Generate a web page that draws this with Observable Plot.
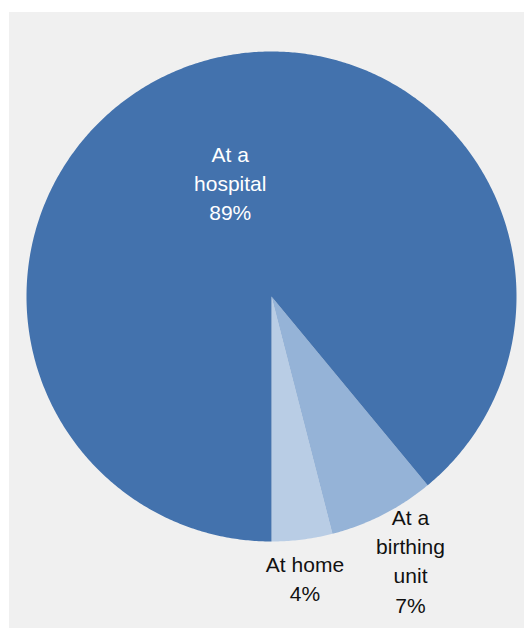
<!DOCTYPE html>
<html>
<head>
<meta charset="utf-8">
<script src="https://cdn.jsdelivr.net/npm/d3@7"></script>
<script src="https://cdn.jsdelivr.net/npm/@observablehq/plot@0.6"></script>
<style>
  html, body { margin: 0; padding: 0; background: #ffffff; }
  #chart { position: absolute; left: 9px; top: 12px; width: 515px; height: 616px; background: #f0f0f0; }
  #chart svg { display: block; background: transparent; }
</style>
</head>
<body>
<div id="chart"></div>
<script>
// ---- data ----
const categories = ["At home", "At a birthing unit", "At a hospital"];
const labelLines = [["At home"], ["At a", "birthing", "unit"], ["At a", "hospital"]];
const values = [4, 7, 89];
const colors = ["#b9cde5", "#95b3d7", "#4372ad"];
const labelColors = ["#111111", "#111111", "#ffffff"];

// ---- layout (pixels / radius units) ----
const W = 515, H = 616;
const R = 245, CX = 262, CY = 284;
const labelRadius = [1.155, 1.205, 0.497];
const labelDx = [-2, 5, 0];

const total = d3.sum(values);
const arcs = d3.pie().sort(null).startAngle(Math.PI).endAngle(-Math.PI)(values);

// polygon outline for each slice (unit radius, y up)
const slices = arcs.map((a, i) => {
  const pts = [{x: 0, y: 0}];
  const n = Math.max(2, Math.ceil(Math.abs(a.endAngle - a.startAngle) / (Math.PI / 360)));
  for (let k = 0; k <= n; k++) {
    const t = a.startAngle + (a.endAngle - a.startAngle) * k / n;
    pts.push({x: Math.sin(t), y: Math.cos(t)});
  }
  pts.push({x: 0, y: 0});
  return pts;
});

const labels = arcs.map((a, i) => {
  const mid = (a.startAngle + a.endAngle) / 2;
  return {
    x: Math.sin(mid) * labelRadius[i],
    y: Math.cos(mid) * labelRadius[i],
    text: [...labelLines[i], Math.round(values[i] / total * 100) + "%"].join("\n"),
    color: labelColors[i],
    i
  };
});

const marks = [];
slices.forEach((pts, i) => {
  marks.push(Plot.line(pts, {x: "x", y: "y", fill: colors[i], stroke: "none", curve: "linear"}));
});
labels.forEach((d) => {
  marks.push(Plot.text([d], {
    x: "x", y: "y", text: "text", fill: d.color,
    dx: labelDx[d.i], fontSize: 21, lineHeight: 1.39, lineAnchor: "middle",
    textAnchor: "middle", fontFamily: "Liberation Sans, Arial, sans-serif"
  }));
});

const chart = Plot.plot({
  width: W,
  height: H,
  margin: 0,
  style: {background: "transparent", fontFamily: "Liberation Sans, Arial, sans-serif"},
  x: {domain: [-CX / R, (W - CX) / R], range: [0, W], axis: null},
  y: {domain: [-(H - CY) / R, CY / R], range: [H, 0], axis: null},
  marks
});
document.getElementById("chart").appendChild(chart);
</script>
</body>
</html>
